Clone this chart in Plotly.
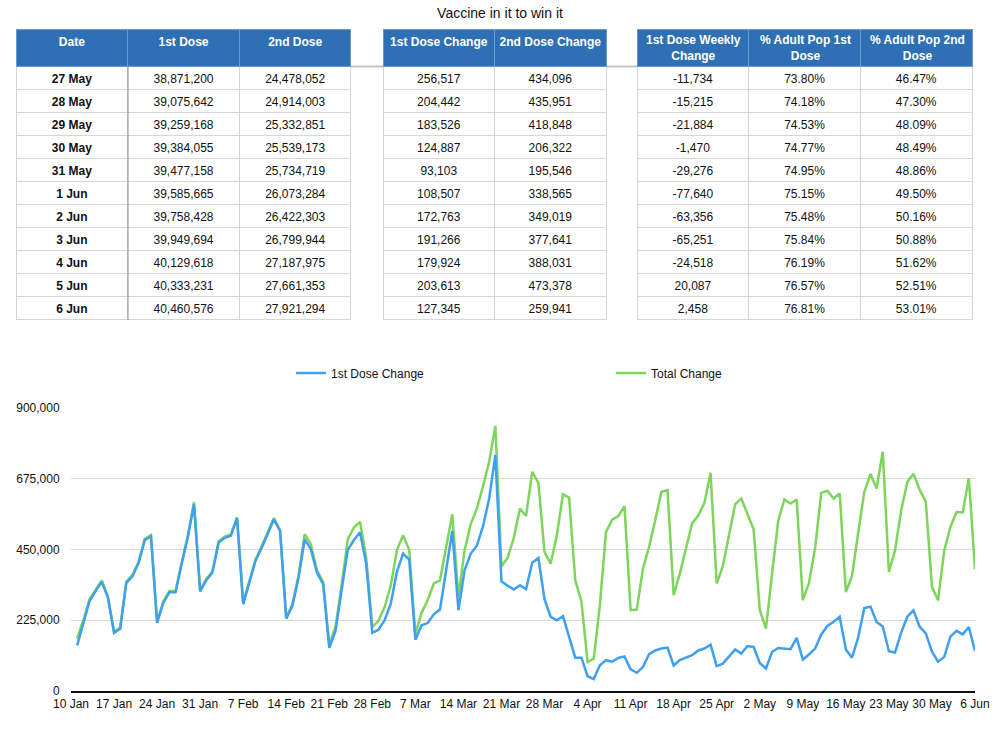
import plotly.graph_objects as go
import pandas as pd

title_text = "Vaccine in it to win it"

# ---------------- table data ----------------
table_dates = ["27 May", "28 May", "29 May", "30 May", "31 May", "1 Jun",
               "2 Jun", "3 Jun", "4 Jun", "5 Jun", "6 Jun"]
first_dose = [38871200, 39075642, 39259168, 39384055, 39477158, 39585665,
              39758428, 39949694, 40129618, 40333231, 40460576]
second_dose = [24478052, 24914003, 25332851, 25539173, 25734719, 26073284,
               26422303, 26799944, 27187975, 27661353, 27921294]
first_dose_change = [256517, 204442, 183526, 124887, 93103, 108507,
                     172763, 191266, 179924, 203613, 127345]
second_dose_change = [434096, 435951, 418848, 206322, 195546, 338565,
                      349019, 377641, 388031, 473378, 259941]
first_dose_weekly_change = [-11734, -15215, -21884, -1470, -29276, -77640,
                            -63356, -65251, -24518, 20087, 2458]
pct_adult_first = [73.80, 74.18, 74.53, 74.77, 74.95, 75.15,
                   75.48, 75.84, 76.19, 76.57, 76.81]
pct_adult_second = [46.47, 47.30, 48.09, 48.49, 48.86, 49.50,
                    50.16, 50.88, 51.62, 52.51, 53.01]

table1_headers = ["Date", "1st Dose", "2nd Dose"]
table2_headers = ["1st Dose Change", "2nd Dose Change"]
table3_headers = ["1st Dose Weekly<br>Change", "% Adult Pop 1st<br>Dose", "% Adult Pop 2nd<br>Dose"]

# ---------------- chart data ----------------
chart_start = "2021-01-11"
chart_end = "2021-06-06"
chart_dates = pd.date_range(chart_start, chart_end).strftime("%Y-%m-%d").tolist()

first_change_series = [
    145000, 216000, 285000, 318000, 347000, 297000, 185000, 198000, 344000, 365000,
    408000, 480000, 492000, 217000, 280000, 314000, 314000, 405000, 490000, 594000,
    317000, 352000, 377000, 471000, 487000, 494000, 549000, 276000, 347000, 414000,
    455000, 503000, 546000, 508000, 230000, 271000, 360000, 482000, 451000, 376000,
    340000, 137000, 190000, 320000, 448000, 480000, 505000, 405000, 185000, 195000,
    225000, 278000, 379000, 437000, 418000, 163000, 209000, 216000, 244000, 259000,
    384000, 509000, 257000, 384000, 437000, 462000, 524000, 612000, 750000, 349000,
    335000, 323000, 336000, 324000, 408000, 423000, 292000, 236000, 225000, 238000,
    172000, 106000, 106000, 47000, 38000, 82000, 98000, 93000, 105000, 110000,
    69000, 58000, 76000, 117000, 129000, 135000, 138000, 81000, 98000, 105000,
    114000, 129000, 135000, 147000, 79000, 87000, 111000, 132000, 119000, 143000,
    140000, 89000, 71000, 124000, 137000, 135000, 133000, 169000, 100000, 116000,
    135000, 180000, 207000, 220000, 236000, 132000, 106000, 170000, 264000, 268251,
    219657, 205410, 126357, 122379, 186147, 236119, 256517, 204442, 183526, 124887,
    93103, 108507, 172763, 191266, 179924, 203613, 127345,
]

total_change_series = [
    167000, 225000, 291000, 322000, 352000, 300000, 188000, 202000, 348000, 369000,
    412000, 484000, 496000, 221000, 284000, 318000, 318000, 409000, 494000, 601000,
    321000, 356000, 381000, 476000, 491000, 498000, 553000, 280000, 351000, 418000,
    460000, 508000, 550000, 512000, 234000, 276000, 368000, 499000, 467000, 384000,
    347000, 147000, 204000, 336000, 482000, 520000, 538000, 425000, 204000, 223000,
    267000, 336000, 448000, 495000, 448000, 182000, 248000, 289000, 342000, 352000,
    453000, 562000, 299000, 448000, 531000, 580000, 651000, 729000, 843000, 397000,
    423000, 487000, 580000, 557000, 697000, 662000, 442000, 405000, 495000, 626000,
    615000, 352000, 285000, 92000, 103000, 273000, 506000, 545000, 556000, 588000,
    257000, 259000, 389000, 458000, 543000, 633000, 639000, 305000, 373000, 453000,
    533000, 559000, 598000, 694000, 342000, 397000, 495000, 594000, 612000, 564000,
    514000, 259000, 198000, 373000, 541000, 609000, 596000, 609000, 289000, 344000,
    455000, 630000, 637000, 612000, 628000, 315000, 365000, 503000, 633000, 690000,
    644000, 761000, 379000, 448000, 575000, 665000, 690613, 640393, 602374, 331209,
    288649, 447072, 521782, 568907, 567955, 676991, 387286,
]

y_tick_values = [0, 225000, 450000, 675000, 900000]
y_tick_labels = ["0", "225,000", "450,000", "675,000", "900,000"]

# ---------------- styles ----------------
FONT = "Liberation Sans, Arial, Helvetica, sans-serif"
HEADER_BLUE = "#2f70b5"
LINE_GREY = "#d6d6d6"
BLUE = "#3f9ff0"
GREEN = "#7ed55b"
W, H = 1000, 747
NBSP = "\u00a0"


def fx(px):
    return px / W


def fy(px):
    return 1 - px / H


def fmt_int(v):
    return f"{v:,}"


def fmt_pct(v):
    return f"{v:.2f}%"


def nb(s):
    return s.replace(" ", NBSP)


def make_table(headers, columns, x0, x1, bold_first=False, header_in_table=True):
    if header_in_table:
        header_vals = [nb(h) for h in headers]
    else:
        header_vals = [""] * len(headers)
    cell_vals = [[nb(str(c)) for c in col] for col in columns]
    weights = ["bold" if (i == 0 and bold_first) else "normal" for i in range(len(columns))]
    return go.Table(
        domain=dict(x=[fx(x0), fx(x1)], y=[fy(335), fy(29)]),
        columnwidth=[1] * len(headers),
        header=dict(
            values=header_vals,
            fill_color=HEADER_BLUE,
            line=dict(color="#6a9bd0", width=1),
            align="center",
            height=37,
            font=dict(family=FONT, size=12, color="white", weight="bold"),
        ),
        cells=dict(
            values=cell_vals,
            fill_color="white",
            line=dict(color=LINE_GREY, width=1),
            align="center",
            height=23,
            font=dict(family=FONT, size=12, color="#111111", weight=weights),
        ),
    )


fig = go.Figure()

fig.add_trace(make_table(
    table1_headers,
    [table_dates, [fmt_int(v) for v in first_dose], [fmt_int(v) for v in second_dose]],
    16, 352, bold_first=True))

fig.add_trace(make_table(
    table2_headers,
    [[fmt_int(v) for v in first_dose_change], [fmt_int(v) for v in second_dose_change]],
    383, 607))

t3_x0, t3_x1 = 637, 973
fig.add_trace(make_table(
    table3_headers,
    [[fmt_int(v) for v in first_dose_weekly_change],
     [fmt_pct(v) for v in pct_adult_first],
     [fmt_pct(v) for v in pct_adult_second]],
    t3_x0, t3_x1, header_in_table=False))

# centred two-line headers for the third table
col_w = (t3_x1 - t3_x0) / len(table3_headers)
for i, h in enumerate(table3_headers):
    fig.add_annotation(
        x=fx(t3_x0 + col_w * (i + 0.5)), y=fy(47.5), xref="paper", yref="paper",
        text=h, showarrow=False, xanchor="center", yanchor="middle", align="center",
        font=dict(family=FONT, size=12, color="white", weight="bold"),
    )

# header shadow line running between the tables, and the darker Date separator
fig.add_shape(type="line", xref="paper", yref="paper",
              x0=fx(16), x1=fx(973), y0=fy(66.5), y1=fy(66.5),
              line=dict(color="#c4c4c4", width=2), layer="below")
fig.add_shape(type="line", xref="paper", yref="paper",
              x0=fx(128), x1=fx(128), y0=fy(66), y1=fy(320),
              line=dict(color="#8c8c8c", width=1), layer="above")

fig.add_trace(go.Scatter(
    x=chart_dates, y=total_change_series, mode="lines", name="Total Change",
    line=dict(color=GREEN, width=2.5), legendrank=2,
))
fig.add_trace(go.Scatter(
    x=chart_dates, y=first_change_series, mode="lines", name="1st Dose Change",
    line=dict(color=BLUE, width=2.5), legendrank=1,
))

fig.update_layout(
    width=W, height=H,
    margin=dict(l=0, r=0, t=0, b=0, autoexpand=False),
    paper_bgcolor="white",
    plot_bgcolor="white",
    font=dict(family=FONT, size=12, color="#111111"),
    title=dict(text=title_text, x=0.5, xanchor="center", y=fy(13), yanchor="middle",
               font=dict(family=FONT, size=14, color="#111111")),
    showlegend=True,
    legend=dict(orientation="h", x=fx(291), xanchor="left", y=fy(373), yanchor="middle",
                font=dict(family=FONT, size=12, color="#111111"),
                entrywidth=275, entrywidthmode="pixels",
                bgcolor="rgba(0,0,0,0)"),
    xaxis=dict(
        domain=[fx(71), fx(975)],
        type="date",
        range=["2021-01-10", chart_end],
        tick0="2021-01-10",
        dtick=7 * 86400000,
        tickformat="%-d %b",
        showgrid=False,
        showline=True, linecolor="#111111", linewidth=2,
        zeroline=False,
        ticks="outside", ticklen=1, tickcolor="rgba(0,0,0,0)",
        tickfont=dict(family=FONT, size=12, color="#111111"),
        anchor="y",
        automargin=False,
    ),
    yaxis=dict(
        domain=[fy(691), fy(408)],
        range=[0, 900000],
        tickvals=y_tick_values,
        ticktext=y_tick_labels,
        showgrid=True, gridcolor="#d9d9d9", gridwidth=1,
        showline=False, zeroline=False,
        ticks="outside", ticklen=8, tickcolor="rgba(0,0,0,0)",
        tickfont=dict(family=FONT, size=12, color="#111111"),
        automargin=False,
    ),
)

fig.write_html("out.html")
